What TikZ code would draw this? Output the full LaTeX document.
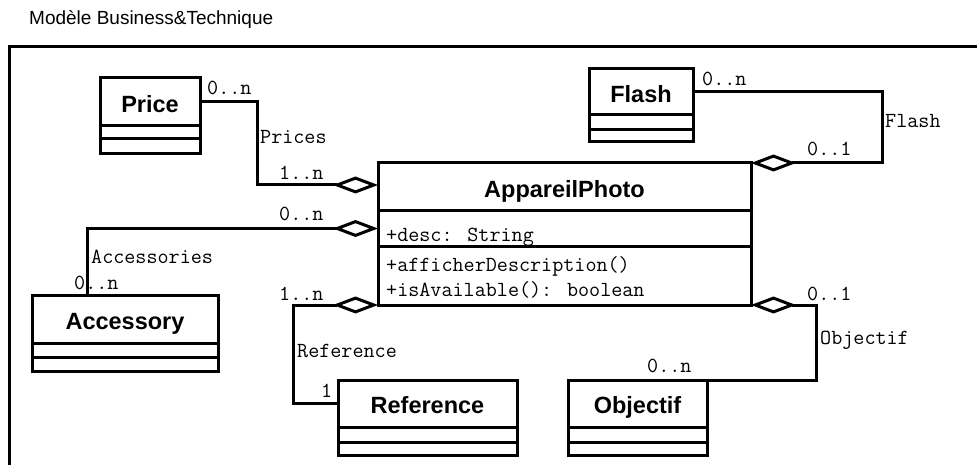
\documentclass[tikz,border=0pt]{standalone}
\usepackage{fontspec}
\setmainfont{Liberation Sans}
\usetikzlibrary{arrows.meta,calc}

\tikzset{
  umlline/.style={line width=3pt},
  clsname/.style={draw, umlline, inner sep=0pt, outer sep=0pt,
    font=\bfseries\fontsize{23.5}{27}\selectfont, text height=20.5pt, text depth=0pt},
  clspart/.style={draw, umlline, inner sep=0pt, outer sep=0pt},
  mono/.style={inner sep=0pt, anchor=base west, font=\ttfamily\fontsize{21.5}{24}\selectfont},
  aggr/.style={umlline, -{Diamond[length=45pt,width=17pt,fill=white]}},
}

% UML class: id, top-left corner, width, heights of the three compartments, name
\newcommand\umlclass[7]{%
  \node[clsname, minimum width=#3, minimum height=#4, anchor=north west] (#1) at (#2) {#7};
  \node[clspart, minimum width=#3, minimum height=#5, anchor=north] (#1-a) at (#1.south) {};
  \node[clspart, minimum width=#3, minimum height=#6, anchor=north] (#1-o) at (#1-a.south) {};
}

\begin{document}
\begin{tikzpicture}[x=1pt,y=-1pt]
\useasboundingbox (0,0) rectangle (977,465);
\clip (0,0) rectangle (977,465);

% package title and frame
\node[anchor=base west, inner sep=0pt, font=\fontsize{19}{22}\selectfont] (title) at (29,25) {Modèle Business\&Technique};
\draw[umlline] (9,480) -- (9,47) -- (990,47);

% classes
\umlclass{price}{100,78}{100}{48}{13}{15}{Price}
\umlclass{flash}{589,69}{104}{46}{15}{12}{Flash}
\umlclass{ap}{378,163}{373}{48}{35}{59}{AppareilPhoto}
\umlclass{accessory}{32,295}{186}{48}{14}{14}{Accessory}
\umlclass{reference}{338,380}{179}{47}{15}{13}{Reference}
\umlclass{objectif}{568,380}{139}{47}{15}{13}{Objectif}

% members of AppareilPhoto
\node[mono] (desc) at (386,241) {+desc: String};
\node[mono] (op1) at (386,271) {+afficherDescription()};
\node[mono] (op2) at (386,296) {+isAvailable(): boolean};

% association labels
\node[mono] (pr1) at (207,95) {0..n};
\node[mono] (pr2) at (260,144) {Prices};
\node[mono] (pr3) at (279,180) {1..n};
\node[mono] (fl1) at (702,86) {0..n};
\node[mono] (fl2) at (885,128) {Flash};
\node[mono] (fl3) at (807,156) {0..1};
\node[mono] (ac1) at (279,221) {0..n};
\node[mono] (ac2) at (91,263) {Accessories};
\node[mono] (ac3) at (74,289) {0..n};
\node[mono] (rf1) at (279,300) {1..n};
\node[mono] (rf2) at (297,357) {Reference};
\node[mono] (rf3) at (321,397) {1};
\node[mono] (ob1) at (807,300) {0..1};
\node[mono] (ob2) at (820,344) {Objectif};
\node[mono] (ob3) at (647,372) {0..n};

% aggregations towards AppareilPhoto
\draw[aggr] (price.east) -- ++(57,0) |- ($(ap.west)+(0,-2)$);
\draw[aggr] (flash.east) -- ++(189,0) |- (ap.north east);
\draw[aggr] ($(accessory.north west)+(55,0)$) |- (ap-a.west);
\draw[aggr] (reference.west) -- ++(-45,0) |- (ap-o.south west);
\draw[aggr] (objectif.north east) -- ++(109,0) |- (ap-o.south east);
\end{tikzpicture}
\end{document}
